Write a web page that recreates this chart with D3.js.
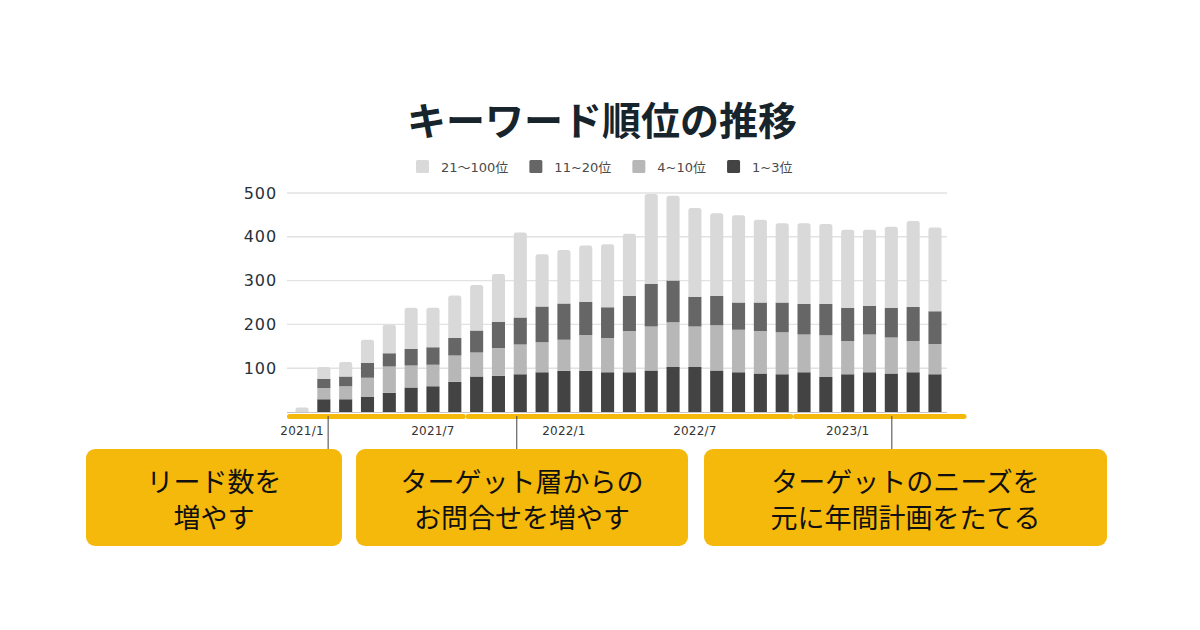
<!DOCTYPE html>
<html><head><meta charset="utf-8">
<script src="https://cdn.jsdelivr.net/npm/d3@7"></script>
<style>html,body{margin:0;padding:0;background:#fff;}svg{display:block;}</style>
</head><body><svg id="c" width="1200" height="630"></svg>
<script>
const months = d3.range(30).map(i => "m" + (i + 1));
const tickIndex = [0, 6, 12, 18, 25];
const tickText = ["2021/1", "2021/7", "2022/1", "2022/7", "2023/1"];
const seriesNames = ["1~3位", "4~10位", "11~20位", "21〜100位"];
const rank1to3 = [0, 29, 29, 34, 44, 56, 59, 69, 81, 83, 86, 91, 94, 94, 91, 91, 95, 103, 103, 95, 91, 88, 86, 91, 80, 86, 91, 88, 91, 86];
const rank4to10 = [0, 26, 30, 44, 60, 50, 49, 60, 55, 63, 68, 68, 71, 82, 78, 94, 100, 102, 92, 103, 97, 97, 96, 86, 95, 76, 86, 82, 71, 69];
const rank11to20 = [0, 21, 22, 34, 30, 38, 40, 40, 50, 60, 62, 82, 83, 75, 70, 80, 97, 95, 68, 67, 62, 65, 68, 70, 72, 76, 65, 68, 78, 75];
const rank21to100 = [10, 27, 33, 53, 65, 94, 90, 97, 104, 109, 194, 119, 122, 129, 144, 142, 206, 194, 203, 189, 199, 189, 181, 184, 182, 178, 174, 185, 196, 191];
const yTicks = [100, 200, 300, 400, 500];
const legendOrder = ["21〜100位", "11~20位", "4~10位", "1~3位"];
const phaseStart = [0, 8, 23];
const phaseEnd = [7, 22, 29];
const phaseAnchor = [1, 10, 27];
const phaseText = [["リード数を", "増やす"], ["ターゲット層からの", "お問合せを増やす"], ["ターゲットのニーズを", "元に年間計画をたてる"]];

const colors = {"1~3位": "#434343", "4~10位": "#b7b7b7", "11~20位": "#666666", "21〜100位": "#d9d9d9"};
const seriesValues = {"1~3位": rank1to3, "4~10位": rank4to10, "11~20位": rank11to20, "21〜100位": rank21to100};
const table = months.map((m, i) => {
  const o = {m};
  seriesNames.forEach(s => o[s] = seriesValues[s][i]);
  return o;
});

const svg = d3.select("#c");
const x = d3.scaleBand().domain(months).range([291.1, 945.9]).paddingInner(0.4).paddingOuter(0.2);
const y = d3.scaleLinear().domain([0, 500]).range([412, 193]);
const bw = x.bandwidth(), step = x.step();
const gridL = 287, gridR = 947;

// Title
svg.append("text").attr("x", 602).attr("y", 118).attr("text-anchor", "middle")
  .attr("dominant-baseline", "central")
  .style("font-family", "'Noto Sans CJK JP'").style("font-weight", 700)
  .style("font-size", "39px").style("fill", "#17242c").text("キーワード順位の推移");

// Legend
let lx = 416;
legendOrder.forEach(name => {
  const g = svg.append("g");
  g.append("rect").attr("x", lx).attr("y", 160).attr("width", 13).attr("height", 13).attr("rx", 1.5)
    .attr("fill", colors[name]);
  const t = g.append("text").attr("x", lx + 25).attr("y", 167).attr("dominant-baseline", "central")
    .style("font-family", "'DejaVu Sans', 'Noto Sans CJK JP'").style("font-size", "13px")
    .style("fill", "#4a4a4a").text(name);
  lx += 25 + t.node().getComputedTextLength() + 21;
});

// Grid
svg.append("g").selectAll("line").data(yTicks).join("line")
  .attr("x1", gridL).attr("x2", gridR).attr("y1", d => y(d)).attr("y2", d => y(d))
  .attr("stroke", "#e2e2e2").attr("stroke-width", 1.4);
svg.append("g").selectAll("text").data(yTicks).join("text")
  .attr("x", 277).attr("y", d => y(d)).attr("text-anchor", "end").attr("dominant-baseline", "central")
  .style("font-family", "'DejaVu Sans'").style("font-size", "16px").style("letter-spacing", "0.9px")
  .style("fill", "#27303a").text(d => d);

// Bars
const stack = d3.stack().keys(seriesNames)(table);
const topIdx = months.map((m, i) => {
  let t = -1;
  seriesNames.forEach((s, k) => { if (seriesValues[s][i] > 0) t = k; });
  return t;
});
function barPath(x0, y0, y1, w, r) {
  const h = y0 - y1;
  r = Math.min(r, h / 2, w / 2);
  return `M${x0},${y0}V${y1 + r}Q${x0},${y1} ${x0 + r},${y1}H${x0 + w - r}Q${x0 + w},${y1} ${x0 + w},${y1 + r}V${y0}Z`;
}
stack.forEach((layer, k) => {
  svg.append("g").selectAll("path").data(layer).join("path")
    .attr("fill", colors[layer.key])
    .attr("d", (d, i) => {
      if (d[1] - d[0] <= 0) return null;
      const r = topIdx[i] === k ? 2.5 : 0;
      return barPath(x(months[i]), y(d[0]), y(d[1]), bw, r);
    });
});

// Baseline
svg.append("line").attr("x1", gridL).attr("x2", gridR).attr("y1", y(0) + 0.5).attr("y2", y(0) + 0.5)
  .attr("stroke", "#c4c4c4").attr("stroke-width", 1);

// X tick labels
svg.append("g").selectAll("text").data(tickIndex).join("text")
  .attr("x", (d) => x(months[d]) + bw / 2).attr("y", 431).attr("text-anchor", "middle")
  .attr("dominant-baseline", "central")
  .style("font-family", "'DejaVu Sans'").style("font-size", "12px").style("letter-spacing", "0.2px")
  .style("fill", "#333").text((d, i) => tickText[i]);

// Phase bands (yellow)
const yellow = "#f5b90b";
phaseStart.forEach((s, p) => {
  const e = phaseEnd[p];
  let x1 = x(months[s]) - (step - bw) / 2 + 2.5;
  let x2 = x(months[e]) + bw + (step - bw) / 2 - 2.5;
  if (p === 0) x1 = gridL + 2.5;
  if (p === phaseStart.length - 1) x2 = gridR + 17;
  svg.append("line").attr("x1", x1).attr("x2", x2).attr("y1", 416.5).attr("y2", 416.5)
    .attr("stroke", yellow).attr("stroke-width", 5).attr("stroke-linecap", "round");
});

// Connectors and boxes
const boxL = [86, 356, 704], boxR = [342, 688, 1107];
const connOffset = [4.3, -3.5, 0.5];
phaseAnchor.forEach((a, p) => {
  const cx = x(months[a]) + bw / 2 + connOffset[p];
  svg.append("line").attr("x1", cx).attr("x2", cx).attr("y1", 416).attr("y2", 450)
    .attr("stroke", "#444").attr("stroke-width", 1);
  svg.append("rect").attr("x", boxL[p]).attr("y", 449).attr("width", boxR[p] - boxL[p]).attr("height", 97)
    .attr("rx", 9).attr("fill", yellow);
  const mid = (boxL[p] + boxR[p]) / 2;
  phaseText[p].forEach((line, j) => {
    svg.append("text").attr("x", mid).attr("y", 480 + j * 36).attr("text-anchor", "middle")
      .attr("dominant-baseline", "central")
      .style("font-family", "'Noto Sans CJK JP'").style("font-size", "27px").style("fill", "#111")
      .text(line);
  });
});
</script></body></html>
